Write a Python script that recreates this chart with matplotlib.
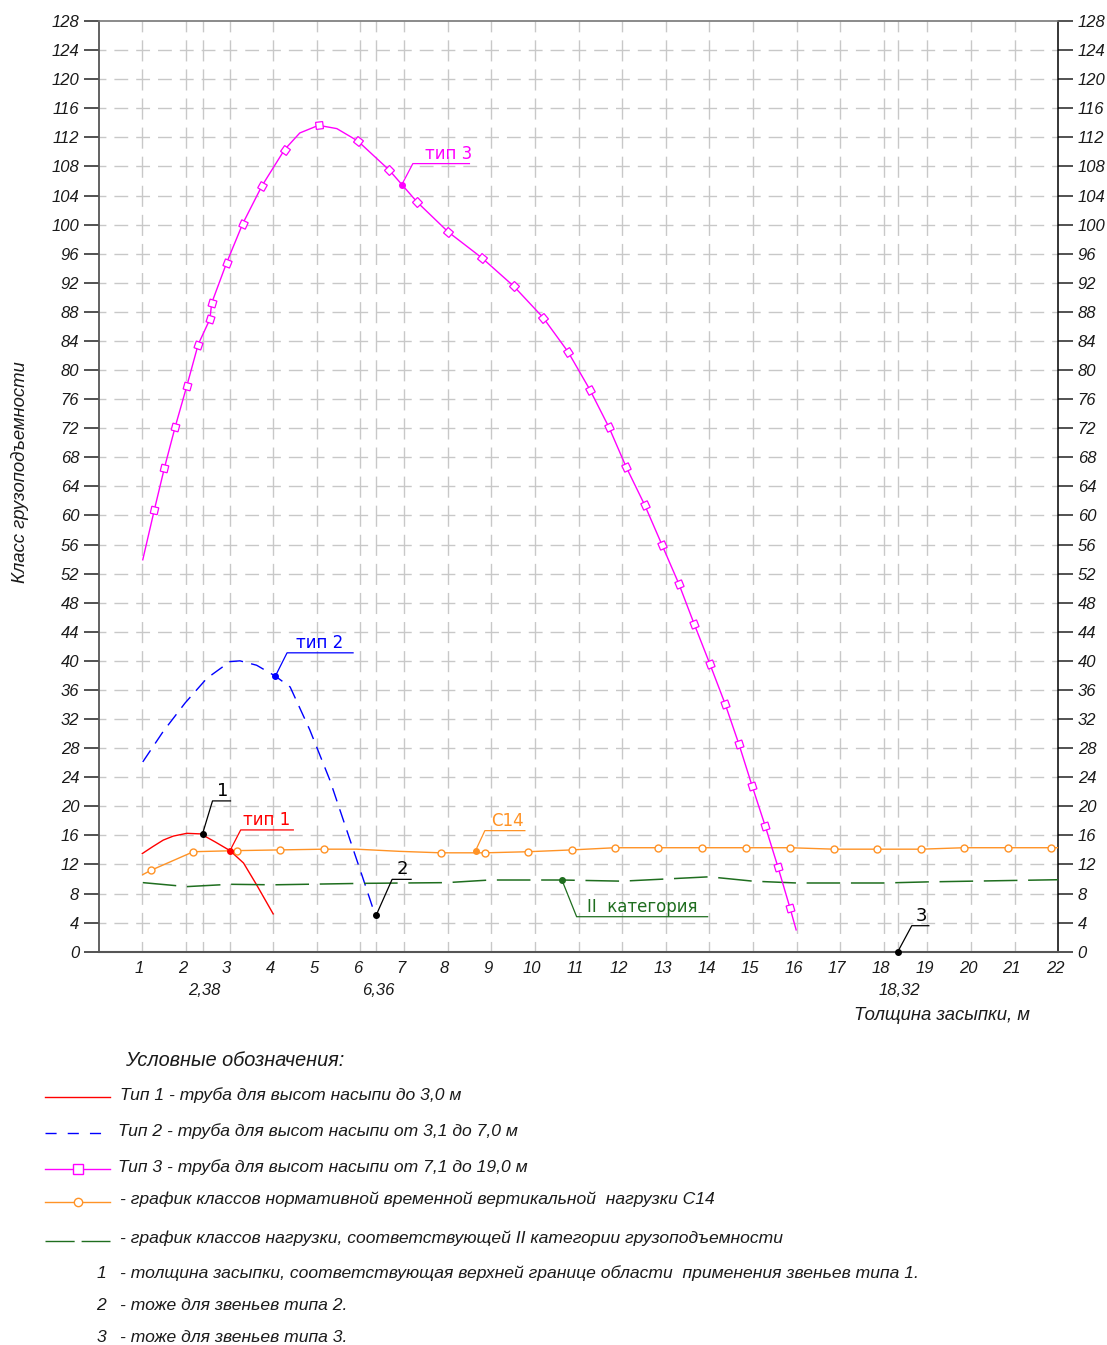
import numpy as np
import matplotlib
matplotlib.use('Agg')
import matplotlib.pyplot as plt
from matplotlib.transforms import offset_copy

plt.rcParams['font.family'] = ['Liberation Sans', 'DejaVu Sans']
plt.rcParams['font.style'] = 'italic'

# ---- данные ----
# тип 1
type1_x = [1.0, 1.24, 1.48, 1.71, 2.02, 2.34, 2.67, 3.01, 3.32, 3.62, 4.0]
type1_y = [13.5, 14.45, 15.35, 15.9, 16.28, 16.2, 15.1, 13.9, 12.2, 9.2, 5.2]
# тип 2
type2_x = [1.01, 1.48, 1.98, 2.48, 3.01, 3.24, 3.62, 4.05, 4.39, 4.84, 5.30, 5.76, 6.07, 6.34]
type2_y = [26.1, 30.3, 34.2, 37.6, 39.9, 40.0, 39.4, 37.9, 36.4, 30.5, 23.6, 15.4, 9.9, 5.0]
# тип 3 (флаг - есть ли маркер в точке)
type3_x = [1.01, 1.275, 1.505, 1.75, 2.02, 2.28, 2.55, 2.59, 2.93, 3.30, 3.74, 4.26, 4.61,
           5.04, 5.46, 5.94, 6.66, 7.30, 8.01, 8.79, 9.52, 10.19, 10.76, 11.26, 11.70, 12.09,
           12.52, 12.91, 13.30, 13.65, 14.01, 14.36, 14.68, 14.98, 15.28, 15.57, 15.85, 15.99]
type3_y = [53.9, 60.75, 66.5, 72.1, 77.8, 83.5, 87.0, 89.2, 94.7, 100.1, 105.3, 110.3, 112.6,
           113.65, 113.2, 111.5, 107.5, 103.1, 99.0, 95.4, 91.5, 87.2, 82.5, 77.3, 72.1, 66.7,
           61.4, 56.0, 50.6, 45.1, 39.6, 34.1, 28.5, 22.8, 17.3, 11.7, 6.0, 3.0]
type3_mark = [0, 1, 1, 1, 1, 1, 1, 1, 1, 1, 1, 1, 0,
              1, 0, 1, 1, 1, 1, 1, 1, 1, 1, 1, 1, 1,
              1, 1, 1, 1, 1, 1, 1, 1, 1, 1, 1, 0]
# нагрузка С14
c14_x = [1.01, 1.20, 2.17, 3.16, 4.16, 5.17, 5.91, 6.9, 7.84, 8.86, 9.85, 10.85, 11.84,
         12.83, 13.83, 14.84, 15.85, 16.86, 17.85, 18.86, 19.84, 20.85, 21.84, 22.0]
c14_y = [10.6, 11.2, 13.75, 13.9, 14.0, 14.1, 14.1, 13.8, 13.6, 13.6, 13.75, 14.0, 14.3,
         14.3, 14.3, 14.3, 14.3, 14.1, 14.1, 14.1, 14.3, 14.3, 14.3, 14.3]
c14_mark = [0, 1, 1, 1, 1, 1, 0, 0, 1, 1, 1, 1, 1,
            1, 1, 1, 1, 1, 1, 1, 1, 1, 1, 0]
# II категория
cat2_x = [1.01, 2.02, 3.01, 4.0, 6.07, 7.98, 8.97, 9.89, 10.62, 12.0, 14.0, 15.0, 16.0,
          18.0, 19.0, 20.0, 21.0, 22.0]
cat2_y = [9.5, 8.95, 9.27, 9.2, 9.4, 9.5, 9.86, 9.86, 9.86, 9.7, 10.3, 9.7, 9.45,
          9.45, 9.6, 9.7, 9.8, 9.9]
# границы применения звеньев
limit_x = [2.38, 6.36, 18.32]
limit_y = [16.2, 5.0, 0.0]
limit_lbl = ['2,38', '6,36', '18,32']
# точки выносок подписей
tip1_pt = (3.01, 13.9)
tip2_pt = (4.05, 37.9)
tip3_pt = (6.95, 105.5)
c14_pt = (8.64, 13.9)
cat2_pt = (10.62, 9.86)

x_ticks = list(range(1, 23))
y_ticks = list(range(0, 129, 4))

RED, BLUE, MAG, ORG, GRN = '#ff0000', '#0000ff', '#ff00ff', '#ff9326', '#1f6e1f'
TXT = '#1a1a1a'
CAD = ['DejaVu Sans']

W, H = 1107, 1345
fig = plt.figure(figsize=(W / 100, H / 100), dpi=100)
L, R, T, B = 98.7, 1058.3, 21.0, 951.7
ax = fig.add_axes([L / W, 1 - B / H, (R - L) / W, (B - T) / H])
ax.set_xlim(0, 22)
ax.set_ylim(0, 128)
sx = (R - L) / 22      # пикселей на единицу x
sy = (B - T) / 128     # пикселей на единицу y
PT = 0.72              # пункт на пиксель при dpi=100

# ---- сетка ----
hper = sx / 2
hon, hoff = (hper - 8) * PT, 8 * PT
vper = sy * 4
von, voff = (vper - 8) * PT, 8 * PT
for y in y_ticks[1:-1]:
    ax.axhline(y, color='#c8c8c8', lw=1.0, ls=(hon / 2, (hon, hoff)), zorder=0.5)
for x in x_ticks[:-1] + limit_x:
    ax.axvline(x, color='#c8c8c8', lw=1.0, ls=(von / 2, (von, voff)), zorder=0.5)

for side, c, w in [('left', '#555555', 1.3), ('bottom', '#555555', 1.5),
                   ('top', '#777777', 1.2), ('right', '#000000', 1.1)]:
    ax.spines[side].set_color(c)
    ax.spines[side].set_linewidth(w)

ax.set_xticks([])
ax.set_yticks(y_ticks)
ax.tick_params(axis='y', left=True, right=True, labelleft=True, labelright=True,
               length=11, width=1.3, color='#444444', pad=3, labelsize=12, labelcolor=TXT)

# подписи оси x
for x in x_ticks:
    tr = offset_copy(ax.get_xaxis_transform(), fig=fig, x=-3, y=-17, units='dots')
    ax.text(x, 0, str(x), transform=tr, ha='center', va='center', fontsize=12, color=TXT)
for x, lbl in zip(limit_x, limit_lbl):
    tr = offset_copy(ax.get_xaxis_transform(), fig=fig, x=2, y=-39, units='dots')
    ax.text(x, 0, lbl, transform=tr, ha='center', va='center', fontsize=12, color=TXT)

# ---- кривые ----
ax.plot(type1_x, type1_y, color=RED, lw=1.0, zorder=3)
ax.plot(type2_x, type2_y, color=BLUE, lw=1.0, ls=(0, (10, 6)), zorder=3)
ax.plot(cat2_x, cat2_y, color=GRN, lw=1.1, ls=(0, (22, 7)), zorder=3)
ax.plot(c14_x, c14_y, color=ORG, lw=1.0, zorder=3)
cm = [i for i, m in enumerate(c14_mark) if m]
ax.plot(np.array(c14_x)[cm], np.array(c14_y)[cm], 'o', ms=5, mfc='white', mec=ORG,
        mew=1.0, zorder=4)

ax.plot(type3_x, type3_y, color=MAG, lw=1.0, zorder=3)
px = np.array(type3_x) * sx
py = np.array(type3_y) * sy
for i, m in enumerate(type3_mark):
    if not m:
        continue
    i0, i1 = max(i - 1, 0), min(i + 1, len(px) - 1)
    ang = np.degrees(np.arctan2(py[i1] - py[i0], px[i1] - px[i0]))
    ax.plot(type3_x[i], type3_y[i], marker=(4, 0, 45 + ang), ms=7.2, mfc='white',
            mec=MAG, mew=0.9, zorder=4)


# ---- выноски ----
def leader(pt, dx, dy, length, text, color, tx, dotc=None, fs=12):
    x0, y0 = pt
    x1, y1 = x0 + dx / sx, y0 + dy / sy
    x2 = x1 + length / sx
    ax.plot([x0, x1, x2], [y0, y1, y1], color=color, lw=0.9, zorder=5, clip_on=False)
    ax.plot(x0, y0, 'o', ms=4, color=dotc or color, zorder=6, clip_on=False)
    ax.text(x1 + tx / sx, y1 + 5 / sy, text, ha='center', va='baseline', fontsize=fs,
            color=color, family=CAD, style='normal', zorder=6)


leader((limit_x[0], limit_y[0]), 10, 33, 18, '1', 'black', 10, fs=13)
leader((limit_x[1], limit_y[1]), 16, 36, 19, '2', 'black', 10, fs=13)
leader((limit_x[2], limit_y[2]), 14, 26, 17, '3', 'black', 10, fs=13)
leader(tip1_pt, 10.7, 20.7, 52.6, 'тип 1', RED, 26)
leader(tip2_pt, 11.7, 23.3, 66, 'тип 2', BLUE, 33)
leader(tip3_pt, 11, 21, 56.6, 'тип 3', MAG, 36)
leader(c14_pt, 9.3, 20, 40, 'С14', ORG, 23)
leader(cat2_pt, 14.7, -36.7, 131, 'II  категория', GRN, 66)

# ---- подписи осей и условные обозначения (в пикселях листа) ----
lax = fig.add_axes([0, 0, 1, 1])
lax.set_xlim(0, W)
lax.set_ylim(H, 0)
lax.axis('off')

lax.text(20, 472, 'Класс грузоподъемности', rotation=90, ha='center', va='center',
         fontsize=13.3, color=TXT)
lax.text(942, 1016, 'Толщина засыпки, м', ha='center', va='center', fontsize=13.3, color=TXT)
lax.text(125, 1060, 'Условные обозначения:', ha='left', va='center', fontsize=14.3, color=TXT)

lax.plot([45, 110], [1097, 1097], color=RED, lw=1.0)
lax.plot([45, 110], [1133, 1133], color=BLUE, lw=1.0, ls=(0, (8, 8)))
lax.plot([45, 110], [1169, 1169], color=MAG, lw=1.0)
lax.plot(78, 1169, 's', ms=7, mfc='white', mec=MAG, mew=1.0)
lax.plot([45, 110], [1202, 1202], color=ORG, lw=1.0)
lax.plot(78, 1202, 'o', ms=6, mfc='white', mec=ORG, mew=1.0)
lax.plot([45, 110], [1241, 1241], color=GRN, lw=1.0, ls=(0, (21, 5)))

items = [
    (120, 1095, 'Тип 1 - труба для высот насыпи до 3,0 м'),
    (118, 1131, 'Тип 2 - труба для высот насыпи от 3,1 до 7,0 м'),
    (118, 1167, 'Тип 3 - труба для высот насыпи от 7,1 до 19,0 м'),
    (120, 1199, '- график классов нормативной временной вертикальной  нагрузки С14'),
    (120, 1238, '- график классов нагрузки, соответствующей II категории грузоподъемности'),
    (120, 1273, '- толщина засыпки, соответствующая верхней границе области  применения звеньев типа 1.'),
    (120, 1305, '- тоже для звеньев типа 2.'),
    (120, 1337, '- тоже для звеньев типа 3.'),
]
for x, y, s in items:
    lax.text(x, y, s, ha='left', va='center', fontsize=12.6, color=TXT)
for y, n in [(1273, '1'), (1305, '2'), (1337, '3')]:
    lax.text(101, y, n, ha='center', va='center', fontsize=12.6, color=TXT)

fig.savefig('out.png', dpi=100, facecolor='white')
